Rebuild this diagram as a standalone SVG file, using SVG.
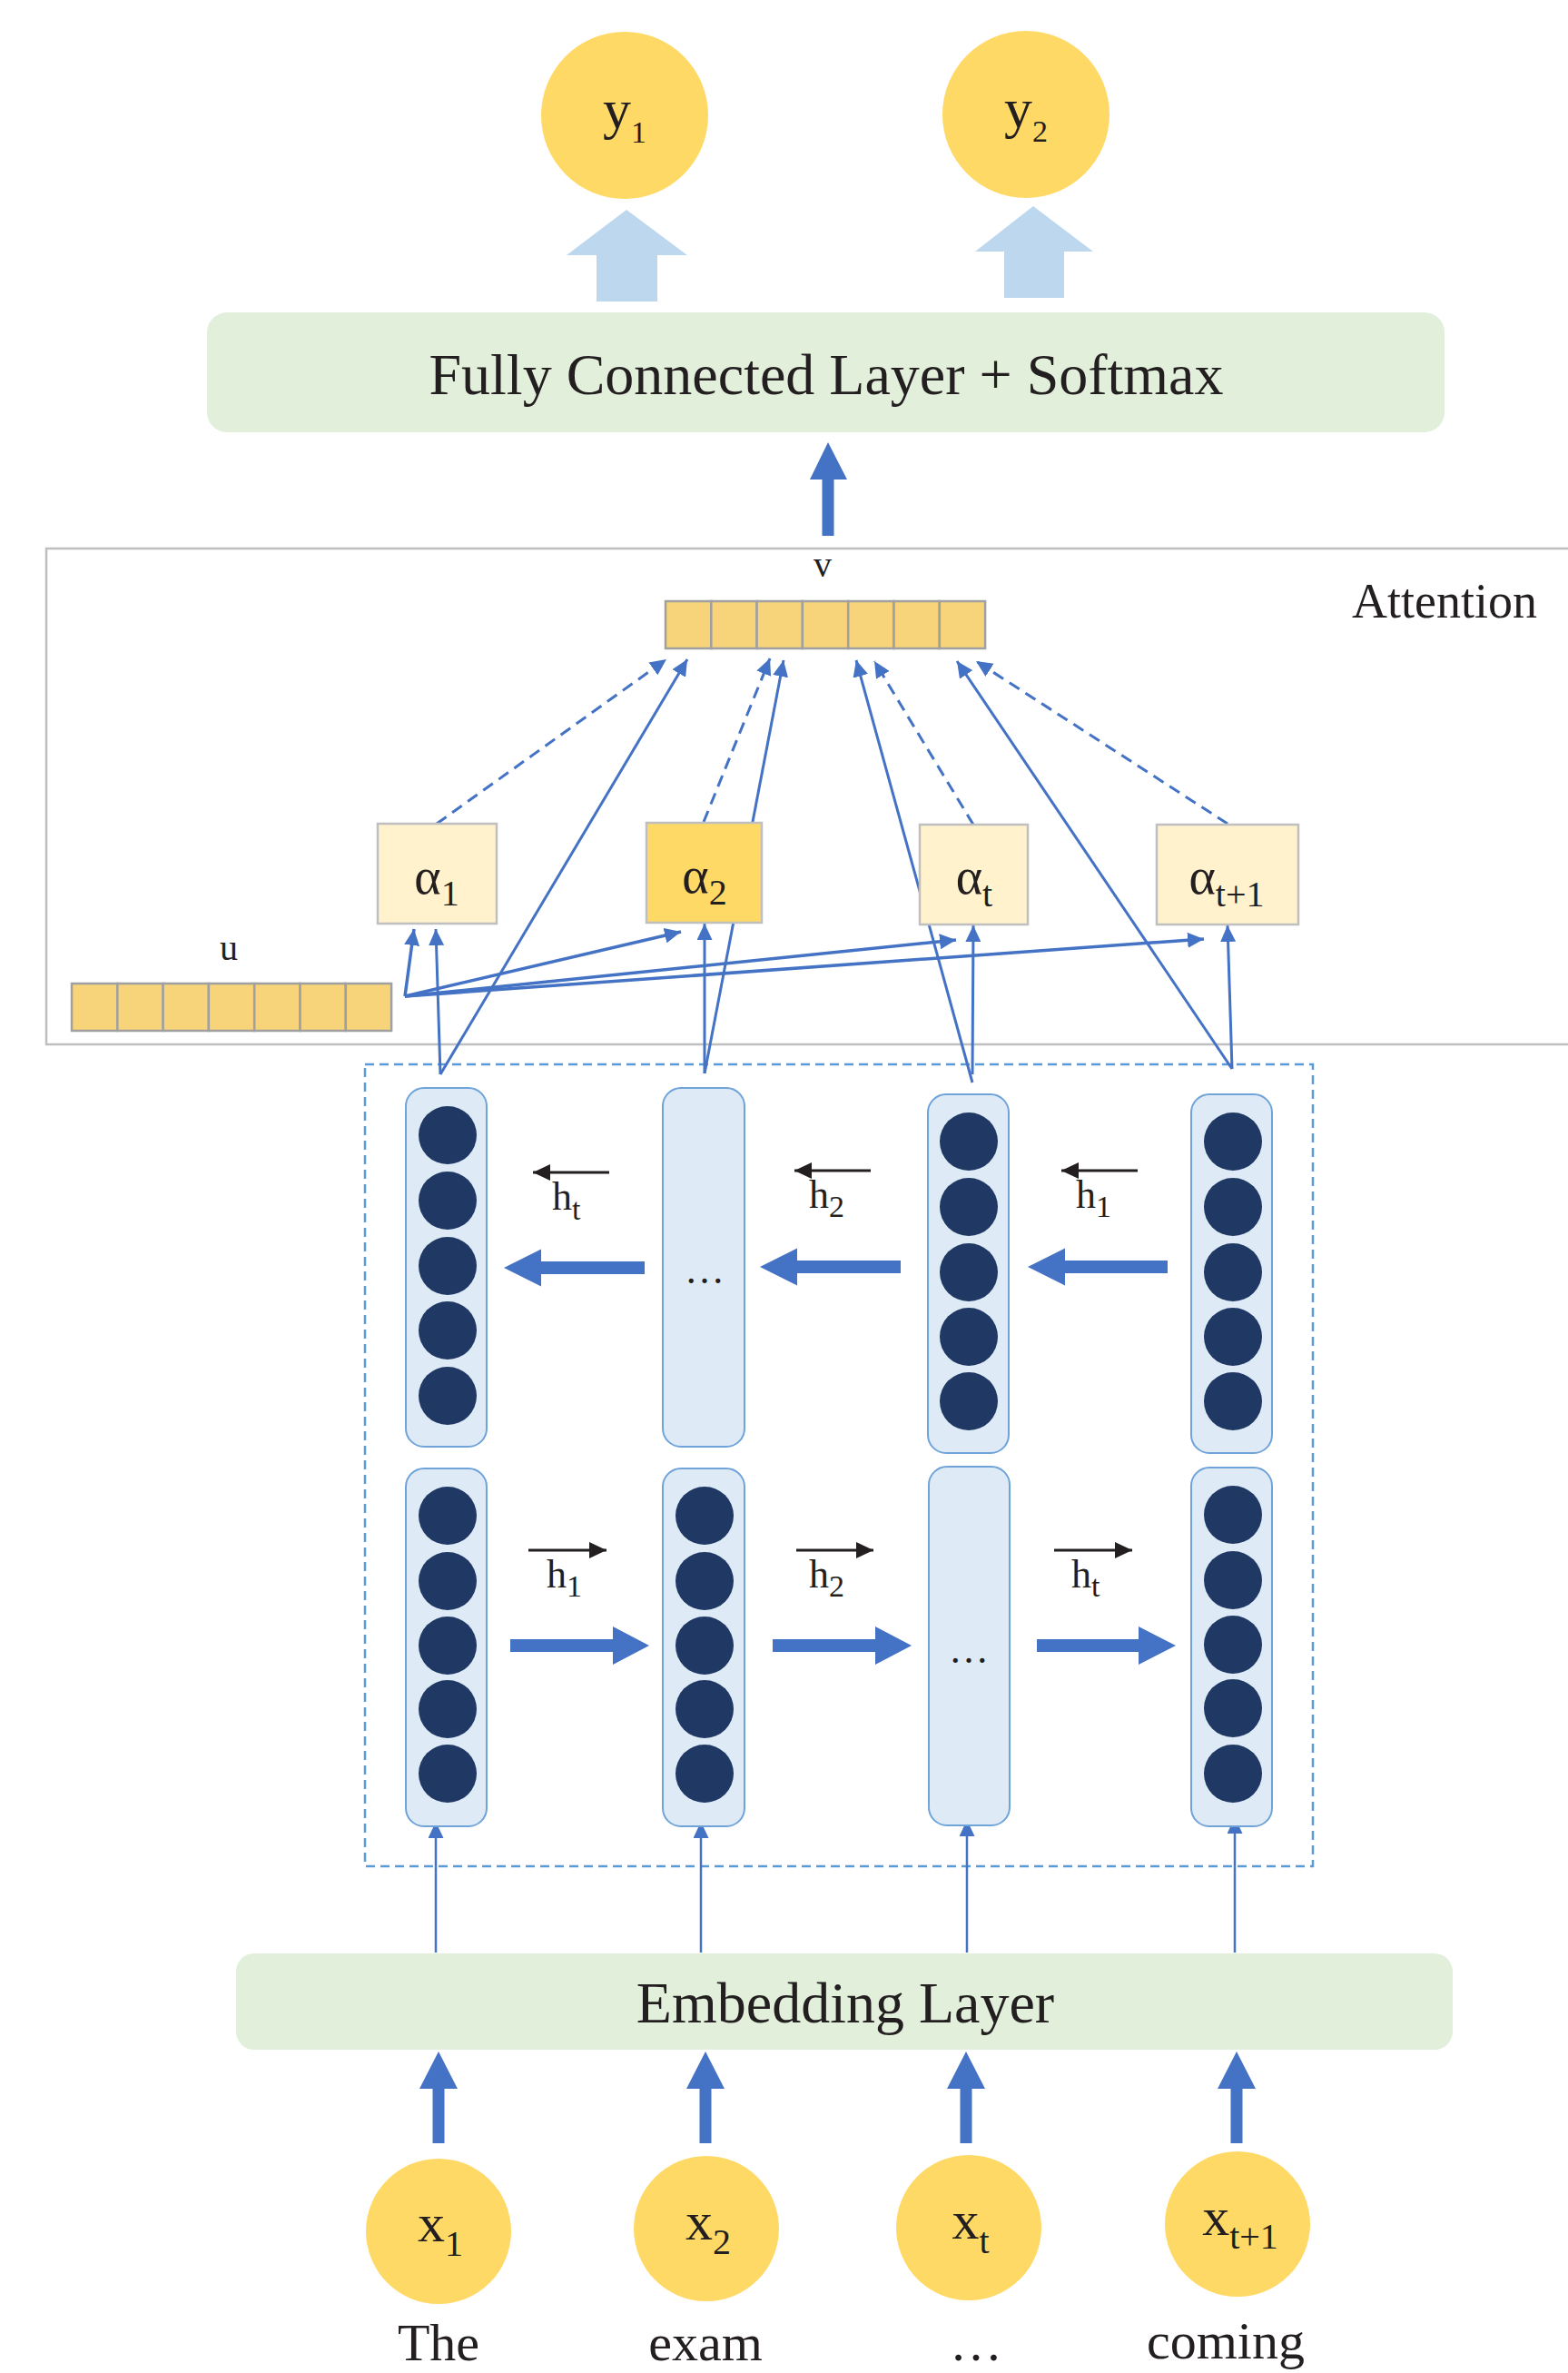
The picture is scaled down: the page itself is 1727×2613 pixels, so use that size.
<svg xmlns="http://www.w3.org/2000/svg" width="1727" height="2613" viewBox="0 0 1727 2613">
<style>
text{font-family:"Liberation Serif","Times New Roman",serif;fill:#231F20}
.gold{fill:#FFD966}
.layer{fill:#E2EFDA}
.cell{fill:#DEEBF7;stroke:#6FA3DA;stroke-width:2}
.dot{fill:#1F3864}
.vec rect{fill:#F7D37A;stroke:#A0A0A0;stroke-width:2.5}
.alpha{fill:#FFF2CC;stroke:#BFBFBF;stroke-width:2.5}
.alphahi{fill:#FFD966;stroke:#BFBFBF;stroke-width:2.5}
.con{stroke:#4472C4;stroke-width:3;fill:none;marker-end:url(#ah)}
.conb{stroke:#4472C4;stroke-width:3.5;fill:none;marker-end:url(#ah)}
.dash{stroke:#4472C4;stroke-width:3;fill:none;stroke-dasharray:13 8;marker-end:url(#ah)}
.thin{stroke:#4472C4;stroke-width:2.5;fill:none;marker-end:url(#ah)}
.blk{fill:#4472C4}
.lb{fill:#BDD7EE}
.harr{stroke:#231F20;stroke-width:3;marker-end:url(#bk)}
</style>
<defs>
<marker id="ah" viewBox="0 0 18 17" refX="18" refY="8.5" markerWidth="18" markerHeight="17" markerUnits="userSpaceOnUse" orient="auto"><path d="M0,0 L18,8.5 L0,17 z" fill="#4472C4"/></marker>
<marker id="bk" viewBox="0 0 19 18" refX="19" refY="9" markerWidth="19" markerHeight="18" markerUnits="userSpaceOnUse" orient="auto"><path d="M0,0 L19,9 L0,18 z" fill="#231F20"/></marker>
</defs>

<!-- Outputs -->
<g id="y1"><circle class="gold" cx="688" cy="127" r="92"/><text x="688" y="141" font-size="62" text-anchor="middle">y<tspan font-size="34" dy="16">1</tspan></text></g>
<g id="y2"><circle class="gold" cx="1130" cy="126" r="92"/><text x="1130" y="140" font-size="62" text-anchor="middle">y<tspan font-size="34" dy="16">2</tspan></text></g>

<g id="out-arrows">
<polygon class="lb" points="690,231 757,281 724,281 724,332 657,332 657,281 624,281"/>
<polygon class="lb" points="1138,227 1204,277 1172,277 1172,328 1106,328 1106,277 1074,277"/>
</g>

<g id="fc"><rect class="layer" x="228" y="344" width="1363" height="132" rx="22"/><text x="910" y="434" font-size="64" text-anchor="middle">Fully Connected Layer + Softmax</text></g>

<g id="v-to-fc"><polygon class="blk" points="912,487 933,528 918.5,528 918.5,590 905.5,590 905.5,528 892,528"/></g>

<!-- Attention frame -->
<g id="attention"><rect x="51" y="604" width="1720" height="546" fill="none" stroke="#BFBFBF" stroke-width="2.5"/><text x="1489" y="680" font-size="54">Attention</text></g>

<g id="v-vector" class="vec">
<rect x="733" y="662" width="50.3" height="52"/><rect x="783.3" y="662" width="50.3" height="52"/><rect x="833.6" y="662" width="50.3" height="52"/><rect x="883.9" y="662" width="50.3" height="52"/><rect x="934.2" y="662" width="50.3" height="52"/><rect x="984.5" y="662" width="50.3" height="52"/><rect x="1034.8" y="662" width="50.3" height="52"/>
<text x="906" y="635" font-size="40" text-anchor="middle">v</text>
</g>

<g id="u-vector" class="vec">
<rect x="79" y="1083" width="50.3" height="52"/><rect x="129.3" y="1083" width="50.3" height="52"/><rect x="179.6" y="1083" width="50.3" height="52"/><rect x="229.9" y="1083" width="50.3" height="52"/><rect x="280.2" y="1083" width="50.3" height="52"/><rect x="330.5" y="1083" width="50.3" height="52"/><rect x="380.8" y="1083" width="50.3" height="52"/>
<text x="252" y="1057" font-size="40" text-anchor="middle">u</text>
</g>

<!-- BiLSTM frame -->
<g id="bilstm"><rect x="402" y="1172" width="1044" height="883" fill="none" stroke="#5B9BD5" stroke-width="2.5" stroke-dasharray="10 6"/></g>

<!-- Connectors -->
<g id="connectors">
<line class="conb" x1="446" y1="1097" x2="456" y2="1023"/>
<line class="conb" x1="446" y1="1097" x2="750" y2="1026"/>
<line class="conb" x1="446" y1="1097" x2="1053" y2="1035"/>
<line class="conb" x1="446" y1="1097" x2="1326" y2="1034"/>
<line class="con" x1="485" y1="1183" x2="480" y2="1023"/>
<line class="con" x1="776" y1="1182" x2="776" y2="1017"/>
<line class="con" x1="1071" y1="1183" x2="1072" y2="1019"/>
<line class="con" x1="1357" y1="1177" x2="1352" y2="1019"/>
<line class="con" x1="485" y1="1183" x2="757" y2="726"/>
<line class="con" x1="776" y1="1182" x2="863" y2="727"/>
<line class="con" x1="1071" y1="1192" x2="943" y2="727"/>
<line class="con" x1="1357" y1="1177" x2="1054" y2="728"/>
<line class="dash" x1="481" y1="907" x2="734" y2="726"/>
<line class="dash" x1="775" y1="905" x2="848" y2="725"/>
<line class="dash" x1="1072" y1="908" x2="963" y2="728"/>
<line class="dash" x1="1352" y1="907" x2="1075" y2="728"/>
<line class="thin" x1="480" y1="2150" x2="480" y2="2006"/>
<line class="thin" x1="772" y1="2150" x2="772" y2="2006"/>
<line class="thin" x1="1065" y1="2150" x2="1065" y2="2004"/>
<line class="thin" x1="1360" y1="2150" x2="1360" y2="2001"/>
</g>

<!-- Alpha nodes -->
<g id="alpha1"><rect class="alpha" x="416" y="907" width="131" height="110"/><text x="481" y="984" font-size="56" text-anchor="middle">α<tspan font-size="40" dy="13">1</tspan></text></g>
<g id="alpha2"><rect class="alphahi" x="712" y="906" width="127" height="110"/><text x="776" y="983" font-size="56" text-anchor="middle">α<tspan font-size="40" dy="13">2</tspan></text></g>
<g id="alphat"><rect class="alpha" x="1013" y="908" width="119" height="110"/><text x="1073" y="984" font-size="56" text-anchor="middle">α<tspan font-size="40" dy="14">t</tspan></text></g>
<g id="alphat1"><rect class="alpha" x="1274" y="908" width="156" height="110"/><text x="1351" y="984" font-size="56" text-anchor="middle">α<tspan font-size="40" dy="14">t+1</tspan></text></g>

<!-- Backward LSTM row -->
<g id="bwd1"><rect class="cell" x="447" y="1198" width="89" height="395" rx="20"/>
<circle class="dot" cx="493" cy="1250" r="32"/><circle class="dot" cx="493" cy="1322" r="32"/><circle class="dot" cx="493" cy="1394" r="32"/><circle class="dot" cx="493" cy="1465" r="32"/><circle class="dot" cx="493" cy="1537" r="32"/></g>
<g id="bwd2"><rect class="cell" x="730" y="1198" width="90" height="395" rx="20"/><text x="776" y="1413" font-size="44" text-anchor="middle">…</text></g>
<g id="bwd3"><rect class="cell" x="1022" y="1205" width="89" height="395" rx="20"/>
<circle class="dot" cx="1067" cy="1257" r="32"/><circle class="dot" cx="1067" cy="1329" r="32"/><circle class="dot" cx="1067" cy="1401" r="32"/><circle class="dot" cx="1067" cy="1472" r="32"/><circle class="dot" cx="1067" cy="1543" r="32"/></g>
<g id="bwd4"><rect class="cell" x="1312" y="1205" width="89" height="395" rx="20"/>
<circle class="dot" cx="1358" cy="1257" r="32"/><circle class="dot" cx="1358" cy="1329" r="32"/><circle class="dot" cx="1358" cy="1401" r="32"/><circle class="dot" cx="1358" cy="1472" r="32"/><circle class="dot" cx="1358" cy="1543" r="32"/></g>

<!-- Forward LSTM row -->
<g id="fwd1"><rect class="cell" x="447" y="1617" width="89" height="394" rx="20"/>
<circle class="dot" cx="493" cy="1669" r="32"/><circle class="dot" cx="493" cy="1741" r="32"/><circle class="dot" cx="493" cy="1812" r="32"/><circle class="dot" cx="493" cy="1882" r="32"/><circle class="dot" cx="493" cy="1953" r="32"/></g>
<g id="fwd2"><rect class="cell" x="730" y="1617" width="90" height="394" rx="20"/>
<circle class="dot" cx="776" cy="1669" r="32"/><circle class="dot" cx="776" cy="1741" r="32"/><circle class="dot" cx="776" cy="1812" r="32"/><circle class="dot" cx="776" cy="1882" r="32"/><circle class="dot" cx="776" cy="1953" r="32"/></g>
<g id="fwd3"><rect class="cell" x="1023" y="1615" width="89" height="395" rx="20"/><text x="1067" y="1831" font-size="44" text-anchor="middle">…</text></g>
<g id="fwd4"><rect class="cell" x="1312" y="1616" width="89" height="395" rx="20"/>
<circle class="dot" cx="1358" cy="1668" r="32"/><circle class="dot" cx="1358" cy="1740" r="32"/><circle class="dot" cx="1358" cy="1811" r="32"/><circle class="dot" cx="1358" cy="1881" r="32"/><circle class="dot" cx="1358" cy="1953" r="32"/></g>

<!-- recurrent block arrows -->
<g id="rec-arrows">
<polygon class="blk" points="555,1396 596,1375.5 596,1389 710,1389 710,1403 596,1403 596,1416.5"/>
<polygon class="blk" points="837,1395 878,1374.5 878,1388 992,1388 992,1402 878,1402 878,1415.5"/>
<polygon class="blk" points="1132,1395 1173,1374.5 1173,1388 1286,1388 1286,1402 1173,1402 1173,1415.5"/>
<polygon class="blk" points="715,1812 675,1791 675,1805 562,1805 562,1819 675,1819 675,1833"/>
<polygon class="blk" points="1004,1812 964,1791 964,1805 851,1805 851,1819 964,1819 964,1833"/>
<polygon class="blk" points="1295,1812 1254,1791 1254,1805 1142,1805 1142,1819 1254,1819 1254,1833"/>
</g>

<!-- hidden state labels -->
<g id="h-labels">
<line class="harr" x1="671" y1="1291" x2="587" y2="1291"/><text x="608" y="1332" font-size="44">h<tspan font-size="34" dy="11">t</tspan></text>
<line class="harr" x1="959" y1="1289" x2="875" y2="1289"/><text x="891" y="1330" font-size="44">h<tspan font-size="34" dy="10">2</tspan></text>
<line class="harr" x1="1253" y1="1289" x2="1169" y2="1289"/><text x="1185" y="1330" font-size="44">h<tspan font-size="34" dy="10">1</tspan></text>
<line class="harr" x1="582" y1="1707" x2="668" y2="1707"/><text x="602" y="1748" font-size="44">h<tspan font-size="34" dy="10">1</tspan></text>
<line class="harr" x1="877" y1="1707" x2="962" y2="1707"/><text x="891" y="1748" font-size="44">h<tspan font-size="34" dy="10">2</tspan></text>
<line class="harr" x1="1161" y1="1707" x2="1247" y2="1707"/><text x="1180" y="1748" font-size="44">h<tspan font-size="34" dy="10">t</tspan></text>
</g>

<g id="embedding"><rect class="layer" x="260" y="2151" width="1340" height="106" rx="20"/><text x="931" y="2227" font-size="64" text-anchor="middle">Embedding Layer</text></g>

<g id="in-arrows">
<polygon class="blk" points="483,2259 504,2300 489.5,2300 489.5,2360 476.5,2360 476.5,2300 462,2300"/>
<polygon class="blk" points="777,2259 798,2300 783.5,2300 783.5,2360 770.5,2360 770.5,2300 756,2300"/>
<polygon class="blk" points="1064,2259 1085,2300 1070.5,2300 1070.5,2360 1057.5,2360 1057.5,2300 1043,2300"/>
<polygon class="blk" points="1362,2259 1383,2300 1368.5,2300 1368.5,2360 1355.5,2360 1355.5,2300 1341,2300"/>
</g>

<g id="x1"><circle class="gold" cx="483" cy="2457" r="80"/><text x="485" y="2468" font-size="60" text-anchor="middle">x<tspan font-size="40" dy="16">1</tspan></text></g>
<g id="x2"><circle class="gold" cx="778" cy="2454" r="80"/><text x="780" y="2466" font-size="60" text-anchor="middle">x<tspan font-size="40" dy="16">2</tspan></text></g>
<g id="xt"><circle class="gold" cx="1067" cy="2453" r="80"/><text x="1069" y="2465" font-size="60" text-anchor="middle">x<tspan font-size="40" dy="16">t</tspan></text></g>
<g id="xt1"><circle class="gold" cx="1363" cy="2449" r="80"/><text x="1366" y="2461" font-size="60" text-anchor="middle">x<tspan font-size="40" dy="15">t+1</tspan></text></g>

<g id="words">
<text x="483" y="2599" font-size="58" text-anchor="middle">The</text>
<text x="777" y="2599" font-size="58" text-anchor="middle">exam</text>
<text x="1075" y="2599" font-size="58" text-anchor="middle">…</text>
<text x="1350" y="2597" font-size="58" text-anchor="middle">coming</text>
</g>
</svg>
